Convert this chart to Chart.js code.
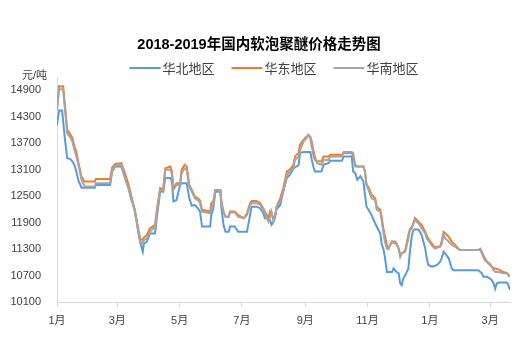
<!DOCTYPE html>
<html>
<head>
<meta charset="utf-8">
<script src="https://cdn.jsdelivr.net/npm/chart.js@4.4.0/dist/chart.umd.min.js"></script>
<style>
    html, body { margin: 0; padding: 0; background: #fff; }
    #wrap { width: 517px; height: 344px; }
</style>
</head>
<body>
<div id="wrap"><canvas id="priceChart" width="517" height="344"></canvas></div>
<script>
// days since 2018-01-01
const days = [0, 2, 5, 6, 8, 10, 13, 15, 17, 19, 21, 24, 27, 37, 38, 52, 54, 57, 63, 66, 70, 73, 76, 78, 80, 81.5, 84, 85, 88, 91, 96, 98, 101, 104, 106, 111, 112.5, 114, 117, 120.5, 122, 125, 127, 129.5, 132, 135, 138, 140, 142, 150, 151, 153, 155, 160, 161, 163, 165, 168, 169.5, 174, 177.5, 183, 186, 189, 190.5, 195.5, 199, 202, 203.5, 207, 208.5, 210, 212, 213.5, 215, 218.5, 221.5, 225, 228, 231.5, 233, 236.5, 238, 241.5, 244.5, 246, 248, 249.5, 251, 252.5, 254.5, 259, 261, 266, 267.5, 279, 280.5, 288.5, 290, 292, 294, 297, 300, 301.5, 303, 305, 308, 311.5, 313, 316.5, 318, 319.5, 321, 323, 324.5, 328, 329.5, 331, 332.5, 334.5, 336, 337.5, 339, 341, 344, 345.5, 347.5, 349, 350.5, 354, 357, 360.5, 362, 363.5, 367, 370, 372, 375, 376.5, 378.5, 380, 383.5, 386.5, 388, 390, 393, 394.5, 412.5, 414.5, 416, 417.5, 419, 421, 424, 425.5, 427.5, 429, 430.5, 432.5, 437, 440.5, 442, 443.5];

const huabei = [14120, 14440, 14440, 14200, 13740, 13360, 13340, 13290, 13210, 13050, 12850, 12690, 12690, 12690, 12750, 12750, 13060, 13170, 13170, 12950, 12680, 12400, 12190, 11920, 11620, 11450, 11240, 11420, 11470, 11650, 11650, 12070, 12600, 12600, 12910, 12910, 12830, 12380, 12410, 12750, 12790, 12790, 12790, 12450, 12280, 12300, 12220, 12150, 11810, 11810, 12070, 12220, 12600, 12600, 12220, 11850, 11690, 11690, 11810, 11810, 11690, 11690, 11690, 12070, 12260, 12260, 12220, 12110, 12000, 12000, 11960, 11850, 11920, 12070, 12200, 12300, 12600, 12910, 12980, 13130, 13150, 13200, 13480, 13500, 13500, 13500, 13500, 13320, 13170, 13060, 13060, 13060, 13210, 13250, 13300, 13300, 13400, 13400, 13060, 13020, 12870, 12950, 12830, 12530, 12260, 12190, 12070, 11880, 11810, 11650, 11390, 11310, 11120, 10780, 10780, 10780, 10860, 10820, 10780, 10750, 10520, 10480, 10630, 10710, 10860, 11240, 11620, 11730, 11750, 11740, 11620, 11310, 11090, 10940, 10900, 10920, 10940, 11010, 11090, 11240, 11200, 11090, 10860, 10820, 10820, 10820, 10820, 10820, 10780, 10750, 10670, 10670, 10670, 10630, 10600, 10520, 10400, 10520, 10540, 10540, 10540, 10480, 10370];

const huadong = [14500, 14990, 14990, 14990, 14500, 14000, 13900, 13820, 13630, 13500, 13250, 12940, 12830, 12830, 12890, 12890, 13150, 13230, 13250, 13050, 12760, 12480, 12200, 11950, 11700, 11540, 11500, 11560, 11620, 11770, 11850, 12220, 12680, 12640, 13130, 13170, 13060, 12680, 12790, 12790, 13100, 13210, 13170, 12760, 12640, 12490, 12450, 12400, 12190, 12150, 12340, 12380, 12640, 12640, 12380, 12150, 12030, 12030, 12150, 12150, 12070, 12000, 12110, 12340, 12390, 12390, 12340, 12220, 12150, 12000, 12150, 12070, 12000, 12030, 12260, 12450, 12680, 13060, 13100, 13210, 13400, 13480, 13670, 13780, 13850, 13890, 13820, 13630, 13440, 13320, 13290, 13290, 13400, 13400, 13440, 13440, 13480, 13480, 13400, 13210, 13170, 13170, 13170, 13060, 12760, 12700, 12530, 12450, 12260, 12190, 12000, 11770, 11600, 11390, 11310, 11470, 11470, 11470, 11400, 11310, 11160, 11200, 11220, 11280, 11620, 11750, 11810, 11900, 12000, 11920, 11850, 11690, 11600, 11540, 11420, 11340, 11350, 11350, 11470, 11690, 11660, 11580, 11470, 11430, 11390, 11310, 11280, 11280, 11280, 11200, 11120, 11050, 11010, 10940, 10900, 10870, 10860, 10850, 10840, 10780, 10760, 10720, 10670];

const huanan = [14450, 14920, 14920, 14920, 14420, 13930, 13830, 13740, 13550, 13400, 13210, 12870, 12720, 12720, 12790, 12790, 13100, 13190, 13210, 12960, 12680, 12430, 12190, 11920, 11650, 11470, 11430, 11500, 11540, 11700, 11800, 12150, 12640, 12620, 13100, 13100, 13000, 12640, 12750, 12750, 13020, 13130, 13100, 12720, 12600, 12450, 12410, 12350, 12150, 12110, 12250, 12300, 12640, 12640, 12300, 12150, 12030, 12030, 12130, 12130, 12030, 12000, 12070, 12300, 12340, 12340, 12300, 12200, 12110, 11920, 12030, 12150, 11920, 12000, 12260, 12380, 12600, 12980, 13060, 13150, 13320, 13400, 13550, 13740, 13820, 13890, 13850, 13740, 13550, 13400, 13250, 13210, 13320, 13320, 13400, 13400, 13500, 13500, 13480, 13170, 13170, 13170, 13170, 13060, 12760, 12640, 12450, 12410, 12190, 12150, 11920, 11690, 11470, 11310, 11310, 11470, 11430, 11430, 11430, 11310, 11120, 11200, 11220, 11240, 11540, 11720, 11770, 11880, 11960, 11880, 11770, 11660, 11540, 11500, 11380, 11310, 11330, 11350, 11400, 11620, 11540, 11470, 11390, 11370, 11350, 11300, 11280, 11280, 11310, 11240, 11160, 11090, 11010, 10970, 10900, 10820, 10780, 10780, 10780, 10750, 10750, 10700, 10670];

const seriesNames = ['华北地区', '华东地区', '华南地区'];
const seriesColors = ['#5b9bd5', '#ed7d31', '#a5a5a5'];
const monthTicks = [0, 59, 120, 181, 243, 304, 365, 424];
const monthLabels = ['1月', '3月', '5月', '7月', '9月', '11月', '1月', '3月'];
const yTicks = [10100, 10700, 11300, 11900, 12500, 13100, 13700, 14300, 14900];

const FONT = '"Liberation Sans", Arial, "Noto Sans CJK SC", sans-serif';

function toPoints(values) {
    return values.map((v, i) => ({ x: days[i], y: v }));
}

// title, legend and unit label drawn on the canvas
const decorPlugin = {
    id: 'decor',
    afterDraw(chart) {
        const ctx = chart.ctx;
        ctx.save();
        ctx.fillStyle = '#000';
        ctx.font = 'bold 14.5px ' + FONT;
        ctx.textAlign = 'center';
        ctx.textBaseline = 'middle';
        ctx.fillText('2018-2019年国内软泡聚醚价格走势图', 259, 45);

        // legend
        ctx.font = '13px ' + FONT;
        ctx.textAlign = 'left';
        const lineLen = 31, gapText = 2, gapItem = 17;
        const widths = seriesNames.map(n => lineLen + gapText + ctx.measureText(n).width);
        const total = widths.reduce((a, b) => a + b, 0) + gapItem * (widths.length - 1);
        let x = 274 - total / 2;
        const y = 68;
        seriesNames.forEach((name, i) => {
            ctx.strokeStyle = seriesColors[i];
            ctx.lineWidth = 2;
            ctx.beginPath();
            ctx.moveTo(x, y);
            ctx.lineTo(x + lineLen, y);
            ctx.stroke();
            ctx.fillStyle = '#404040';
            ctx.fillText(name, x + lineLen + gapText, y + 1);
            x += widths[i] + gapItem;
        });

        // unit
        ctx.font = '11px ' + FONT;
        ctx.fillStyle = '#404040';
        ctx.fillText('元/吨', 22, 76);
        ctx.restore();
    }
};

const ctx = document.getElementById('priceChart').getContext('2d');
new Chart(ctx, {
    type: 'line',
    data: {
        datasets: seriesNames.map((name, i) => ({
            label: name,
            data: toPoints([huabei, huadong, huanan][i]),
            borderColor: seriesColors[i],
            backgroundColor: seriesColors[i],
            borderWidth: 2,
            pointRadius: 0,
            tension: 0,
            order: 2 - i
        }))
    },
    options: {
        responsive: false,
        animation: false,
        layout: { padding: { top: 77, right: 7, left: 0, bottom: 0 } },
        plugins: {
            legend: { display: false },
            title: { display: false },
            tooltip: { enabled: false }
        },
        scales: {
            x: {
                type: 'linear',
                min: 0,
                max: 443.5,
                afterBuildTicks: (scale) => {
                    scale.ticks = monthTicks.map(v => ({ value: v }));
                },
                afterFit: (scale) => { scale.height = 42; },
                ticks: {
                    autoSkip: false,
                    maxRotation: 0,
                    padding: 7,
                    color: '#404040',
                    font: { size: 11, family: FONT },
                    callback: (v) => monthLabels[monthTicks.indexOf(v)]
                },
                grid: {
                    display: true,
                    drawOnChartArea: false,
                    drawTicks: true,
                    tickLength: 5,
                    color: '#d9d9d9'
                },
                border: { display: true, color: '#d9d9d9', width: 1 }
            },
            y: {
                min: 10100,
                max: 15200,
                afterBuildTicks: (scale) => {
                    scale.ticks = yTicks.map(v => ({ value: v }));
                },
                afterFit: (scale) => { scale.width = 57; },
                ticks: {
                    padding: 8,
                    color: '#404040',
                    font: { size: 11, family: FONT },
                    callback: (v) => String(v)
                },
                grid: { display: false },
                border: { display: true, color: '#d9d9d9', width: 1 }
            }
        }
    },
    plugins: [decorPlugin]
});
</script>
</body>
</html>
